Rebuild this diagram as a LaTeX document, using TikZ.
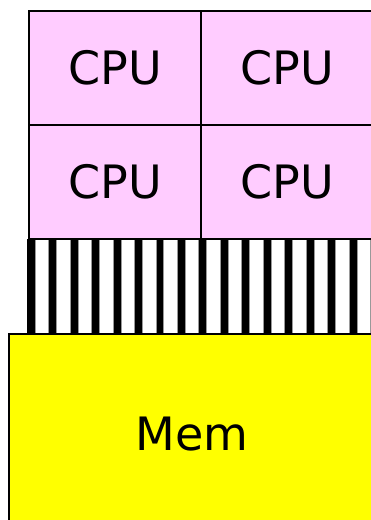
\documentclass[tikz,border=0pt]{standalone}
\usepackage{fontspec}
\setmainfont{DejaVu Sans}
\definecolor{cpupink}{HTML}{FFCCFF}
\definecolor{memyellow}{HTML}{FFFF00}
\begin{document}
\begin{tikzpicture}[x=1pt,y=1pt,
  cell/.style={draw=black, line width=1.6pt, inner sep=0pt, outer sep=0pt,
    anchor=north west, font=\fontsize{46}{46}\selectfont},
  cpu/.style={cell, fill=cpupink, minimum width=172pt, minimum height=114pt},
  mem/.style={cell, line width=1.6pt, fill=memyellow,
    minimum width=366pt, minimum height=200pt},
  gap/.style={fill=white, draw=black!40, line width=0.5pt}]
\useasboundingbox (0,0) rectangle (371,520);
\clip (0,0) rectangle (371,520);
% interconnect: black bars separated by white gaps
\fill[black] (27,186) rectangle (380,281);
\foreach \k in {0,...,16}{
  \path[gap] ({35+\k*21.45},186.5) rectangle ({48.5+\k*21.45},280.5);
}
% processor grid
\node[cpu] (cpu1) at (29,509) {CPU};
\node[cpu] (cpu2) at (201,509) {CPU};
\node[cpu] (cpu3) at (29,395) {CPU};
\node[cpu] (cpu4) at (201,395) {CPU};
% shared memory
\node[mem] (mem) at (9,186) {Mem};
\end{tikzpicture}
\end{document}
